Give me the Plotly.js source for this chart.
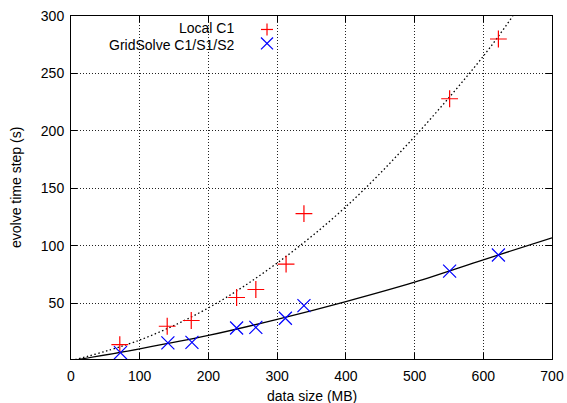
<!DOCTYPE html>
<html>
<head>
<meta charset="utf-8">
<script src="https://cdn.plot.ly/plotly-3.0.1.min.js"></script>
<style>html,body{margin:0;padding:0;background:#fff;}#chart{width:567px;height:403px;}</style>
</head>
<body>
<div id="chart"></div>
<script>
// measured points
const localX = [71, 140, 175, 241, 269, 313, 339, 551, 622];
const localY = [14, 30, 35, 55, 62, 84, 128, 228, 280];
const gridX = [72, 141, 176, 241, 269, 312, 339, 551, 622];
const gridY = [7, 15.5, 16, 28.5, 29, 37, 48, 78, 92];
// fitted curves
const localFitX = [0, 100, 200, 300, 400, 500, 600, 643];
const localFitY = [0, 18, 46, 85, 134, 195, 265, 300];
const gridFitX = [0, 100, 200, 300, 400, 500, 600, 700];
const gridFitY = [0, 10.4, 22, 36, 51.5, 68.4, 87.8, 107];
const xTicks = [0, 100, 200, 300, 400, 500, 600, 700];
const yTicks = [50, 100, 150, 200, 250, 300];
const seriesNames = ['Local C1', 'GridSolve C1/S1/S2'];
const xTitle = 'data size (MB)';
const yTitle = 'evolve time step (s)';

const font = {family: 'Liberation Sans, Arial, sans-serif', size: 14, color: '#000'};

const traces = [
  {x: localFitX, y: localFitY, mode: 'lines', line: {color: '#000', width: 1.3, dash: '1.5px,2.5px', shape: 'spline'}, showlegend: false, hoverinfo: 'skip'},
  {x: gridFitX, y: gridFitY, mode: 'lines', line: {color: '#000', width: 1.3, shape: 'spline'}, showlegend: false, hoverinfo: 'skip'},
  {x: localX, y: localY, mode: 'markers', name: seriesNames[0],
   marker: {symbol: 'cross-thin-open', size: 12, color: '#ff0000', line: {color: '#ff0000', width: 1.2}}, showlegend: false},
  {x: gridX, y: gridY, mode: 'markers', name: seriesNames[1],
   marker: {symbol: 'x-thin-open', size: 13, color: '#0000ff', line: {color: '#0000ff', width: 1.2}}, showlegend: false}
];

// legend drawn gnuplot-style (text left of key)
const shapes = [
  {type: 'line', xref: 'paper', yref: 'paper', x0: 0.395, x1: 0.420, y0: 0.9607, y1: 0.9607, line: {color: '#ff0000', width: 1.2}},
  {type: 'line', xref: 'paper', yref: 'paper', x0: 0.4075, x1: 0.4075, y0: 0.9432, y1: 0.9782, line: {color: '#ff0000', width: 1.2}},
  {type: 'line', xref: 'paper', yref: 'paper', x0: 0.395, x1: 0.420, y0: 0.9374, y1: 0.9025, line: {color: '#0000ff', width: 1.2}},
  {type: 'line', xref: 'paper', yref: 'paper', x0: 0.395, x1: 0.420, y0: 0.9025, y1: 0.9374, line: {color: '#0000ff', width: 1.2}}
];
const annotations = [
  {xref: 'paper', yref: 'paper', x: 0.343, y: 0.9637, xanchor: 'right', yanchor: 'middle', text: seriesNames[0], showarrow: false, font: font},
  {xref: 'paper', yref: 'paper', x: 0.343, y: 0.916, xanchor: 'right', yanchor: 'middle', text: seriesNames[1], showarrow: false, font: font},
  {xref: 'paper', yref: 'paper', x: 0.5, y: 0, xanchor: 'center', yanchor: 'middle', yshift: -36.7, text: xTitle, showarrow: false, font: font},
  {xref: 'paper', yref: 'paper', x: 0, y: 0.5, xanchor: 'center', yanchor: 'middle', xshift: -55.5, textangle: -90, text: yTitle, showarrow: false, font: font}
];

const axisCommon = {
  showline: true, linecolor: '#000', linewidth: 1, mirror: 'ticks',
  ticks: 'inside', ticklen: 6, tickcolor: '#000', tickwidth: 1,
  showgrid: true, gridcolor: '#222', griddash: '1px,2px', gridwidth: 1,
  zeroline: false, tickfont: font, automargin: false
};

const layout = {
  width: 567, height: 403,
  margin: {l: 71, r: 15, t: 15.5, b: 44, pad: 0},
  paper_bgcolor: '#fff', plot_bgcolor: '#fff',
  font: font,
  showlegend: false,
  xaxis: Object.assign({}, axisCommon, {range: [0, 700], tickvals: xTicks, ticktext: xTicks.map(String), ticklabelstandoff: 4}),
  yaxis: Object.assign({}, axisCommon, {range: [1.5, 300], tickvals: yTicks, ticktext: yTicks.map(String), ticklabelstandoff: 3}),
  shapes: shapes,
  annotations: annotations
};

Plotly.newPlot('chart', traces, layout, {displayModeBar: false, staticPlot: true});
</script>
</body>
</html>
